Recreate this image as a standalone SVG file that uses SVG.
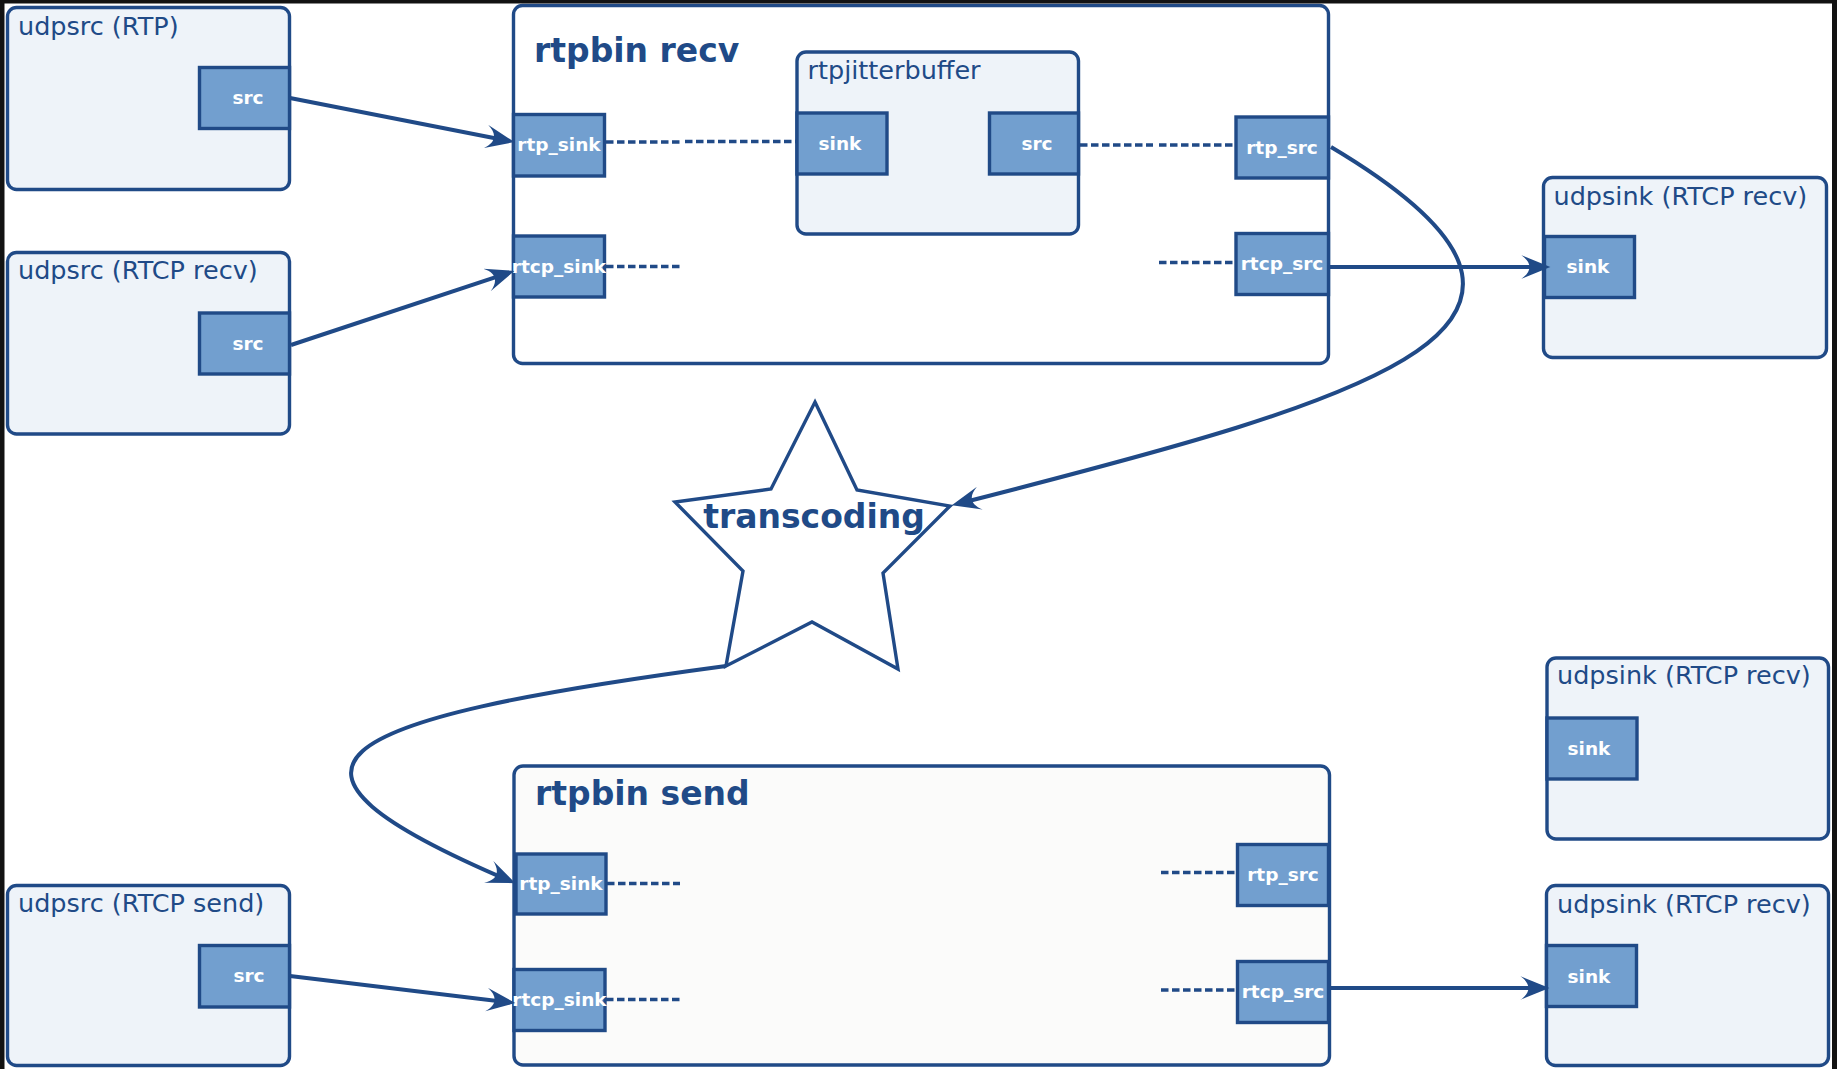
<svg xmlns="http://www.w3.org/2000/svg" width="1837" height="1069" viewBox="0 0 1837 1069">
<style>
  .box { fill: #eef3f9; stroke: #204a87; stroke-width: 3.4; }
  .bin { fill: #ffffff; stroke: #204a87; stroke-width: 3.4; }
  .binsend { fill: #fbfbfa; stroke: #204a87; stroke-width: 3.4; }
  .pad { fill: #729fcf; stroke: #204a87; stroke-width: 3.4; }
  .lbl { font-family: "DejaVu Sans", "Liberation Sans", sans-serif; font-size: 25.5px; fill: #204a87; }
  .title { font-family: "DejaVu Sans", "Liberation Sans", sans-serif; font-size: 33px; font-weight: bold; fill: #204a87; }
  .padlbl { font-family: "DejaVu Sans", "Liberation Sans", sans-serif; font-size: 18.5px; font-weight: bold; fill: #ffffff; text-anchor: middle; }
  .link { fill: none; stroke: #204a87; stroke-width: 4; }
  .dash { fill: none; stroke: #204a87; stroke-width: 3.6; stroke-dasharray: 7.5 3.5; }
</style>
<defs>
  <marker id="arr" markerUnits="userSpaceOnUse" markerWidth="30" markerHeight="24" viewBox="0 0 28 22" refX="22" refY="11" orient="auto">
    <path d="M0,0 L27,11 L0,22 C10,15 10,7 0,0 Z" fill="#204a87"/>
  </marker>
</defs>
<rect width="1837" height="1069" fill="#ffffff"/>

<g id="udpsrc-rtp">
  <rect class="box" x="7.5" y="7.5" width="282" height="182" rx="9"/>
  <text class="lbl" x="18" y="35">udpsrc (RTP)</text>
  <rect class="pad" x="199.5" y="67.5" width="90" height="61"/>
  <text class="padlbl" x="248" y="104">src</text>
</g>
<g id="udpsrc-rtcp-recv">
  <rect class="box" x="7.5" y="252.5" width="282" height="181.5" rx="9"/>
  <text class="lbl" x="18" y="279">udpsrc (RTCP recv)</text>
  <rect class="pad" x="199.5" y="313" width="90" height="61"/>
  <text class="padlbl" x="248" y="349.5">src</text>
</g>
<g id="udpsrc-rtcp-send">
  <rect class="box" x="7.5" y="885.5" width="282" height="180" rx="9"/>
  <text class="lbl" x="18" y="912">udpsrc (RTCP send)</text>
  <rect class="pad" x="199.5" y="945.5" width="90" height="61.5"/>
  <text class="padlbl" x="249" y="982">src</text>
</g>

<g id="rtpbin-recv">
  <rect class="bin" x="513.5" y="5.5" width="815" height="358" rx="9"/>
  <text class="title" x="534" y="62">rtpbin recv</text>
  <rect class="pad" x="513.5" y="114.5" width="91" height="61.5"/>
  <text class="padlbl" x="559" y="151">rtp_sink</text>
  <rect class="pad" x="513.5" y="236" width="91" height="61"/>
  <text class="padlbl" x="559" y="272.5">rtcp_sink</text>
  <rect class="pad" x="1236" y="117" width="92.5" height="61"/>
  <text class="padlbl" x="1282" y="153.5">rtp_src</text>
  <rect class="pad" x="1236" y="233.5" width="92.5" height="61"/>
  <text class="padlbl" x="1282" y="270">rtcp_src</text>
</g>
<g id="rtpjitterbuffer">
  <rect class="box" x="797" y="52" width="281.5" height="182" rx="9"/>
  <text class="lbl" x="807.5" y="78.5">rtpjitterbuffer</text>
  <rect class="pad" x="797" y="113" width="90" height="61"/>
  <text class="padlbl" x="840" y="149.5">sink</text>
  <rect class="pad" x="989.5" y="113" width="89" height="61"/>
  <text class="padlbl" x="1037" y="149.5">src</text>
</g>

<g id="rtpbin-send">
  <rect class="binsend" x="514" y="766" width="815.5" height="299" rx="9"/>
  <text class="title" x="535" y="805">rtpbin send</text>
  <rect class="pad" x="516" y="854" width="90" height="60"/>
  <text class="padlbl" x="561" y="890">rtp_sink</text>
  <rect class="pad" x="514" y="969.5" width="91" height="61"/>
  <text class="padlbl" x="559.5" y="1006">rtcp_sink</text>
  <rect class="pad" x="1237.5" y="844.5" width="91" height="61"/>
  <text class="padlbl" x="1283" y="881">rtp_src</text>
  <rect class="pad" x="1237.5" y="961.5" width="91" height="61"/>
  <text class="padlbl" x="1283" y="998">rtcp_src</text>
</g>

<g id="udpsink-rtcp-recv-1">
  <rect class="box" x="1543.5" y="177.5" width="283" height="180" rx="9"/>
  <text class="lbl" x="1553.5" y="205">udpsink (RTCP recv)</text>
  <rect class="pad" x="1544.5" y="236.5" width="90" height="61"/>
  <text class="padlbl" x="1588" y="273">sink</text>
</g>
<g id="udpsink-rtcp-recv-2">
  <rect class="box" x="1547" y="658" width="281.5" height="181" rx="9"/>
  <text class="lbl" x="1557" y="684">udpsink (RTCP recv)</text>
  <rect class="pad" x="1547" y="718" width="90" height="61"/>
  <text class="padlbl" x="1589" y="754.5">sink</text>
</g>
<g id="udpsink-rtcp-recv-3">
  <rect class="box" x="1546.5" y="885.5" width="282" height="180" rx="9"/>
  <text class="lbl" x="1557" y="913">udpsink (RTCP recv)</text>
  <rect class="pad" x="1546.5" y="945.5" width="90" height="61"/>
  <text class="padlbl" x="1589" y="982.5">sink</text>
</g>

<g id="transcoding">
  <polygon points="815,402 857,490 950,506 883,573 898,669 812,622 726,666 743,571 675,502 771,489" fill="#ffffff" stroke="#204a87" stroke-width="3.4" stroke-linejoin="miter"/>
  <text class="title" x="814" y="528" text-anchor="middle">transcoding</text>
</g>

<g id="connectors">
  <line class="dash" x1="606" y1="142" x2="680" y2="142"/>
  <line class="dash" x1="685" y1="141.5" x2="796" y2="141.5"/>
  <line class="dash" x1="1080" y1="145" x2="1153" y2="145"/>
  <line class="dash" x1="1159" y1="145" x2="1235" y2="145"/>
  <line class="dash" x1="606" y1="266.5" x2="680" y2="266.5"/>
  <line class="dash" x1="1159" y1="262.5" x2="1234" y2="262.5"/>
  <line class="dash" x1="607" y1="883.5" x2="680" y2="883.5"/>
  <line class="dash" x1="606" y1="999.5" x2="681" y2="999.5"/>
  <line class="dash" x1="1161" y1="872.5" x2="1236" y2="872.5"/>
  <line class="dash" x1="1161" y1="990" x2="1236" y2="990"/>

  <path class="link" d="M290,98 L509.1,141" marker-end="url(#arr)"/>
  <path class="link" d="M291,345 L509.3,272.6" marker-end="url(#arr)"/>
  <path class="link" d="M1328,267 L1545,267" marker-end="url(#arr)"/>
  <path class="link" d="M290,976 L510,1002.4" marker-end="url(#arr)"/>
  <path class="link" d="M1329,988 L1544,988" marker-end="url(#arr)"/>
  <path class="link" d="M1331,147 C1630,325 1385,395 957,504" marker-end="url(#arr)"/>
  <path class="link" d="M726,666 C315,721 240,766 510.4,881.1" marker-end="url(#arr)"/>
</g>

<rect x="0" y="0" width="1837" height="3.5" fill="#121212"/>
<rect x="0" y="0" width="4.5" height="1069" fill="#121212"/>
<rect x="1832" y="0" width="5" height="1069" fill="#121212"/>
</svg>
